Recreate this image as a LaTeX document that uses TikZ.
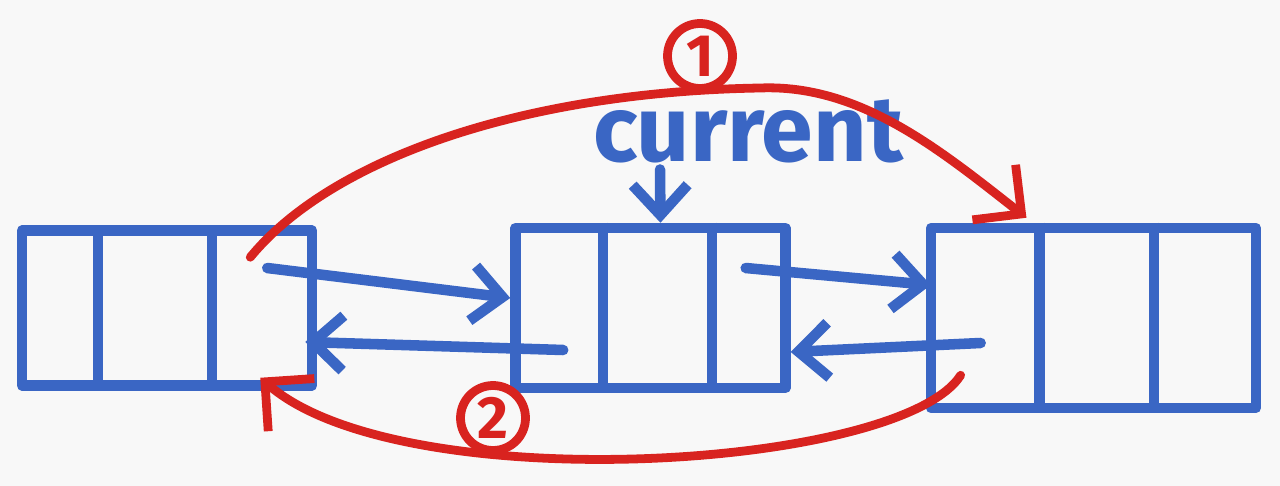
\documentclass[tikz,border=0pt]{standalone}
\usepackage{fontspec}
\setmainfont{Fira Sans}
\usetikzlibrary{positioning, calc, arrows.meta}

\definecolor{penblue}{HTML}{3A66C4}
\definecolor{penred}{HTML}{D8231F}
\definecolor{paper}{HTML}{F8F8F8}

\begin{document}
\begin{tikzpicture}[
    x=0.02cm, y=-0.02cm,
    every node/.style={font=\small},
    listnode/.style={rectangle, draw=penblue, line width=6pt, inner sep=0pt, line join=round},
    divider/.style={penblue, line width=6pt},
    link/.style={-{Straight Barb[length=6mm, width=11mm]}, line width=6pt, penblue, line cap=round, line join=round},
    swap/.style={-{Straight Barb[length=7mm, width=14mm]}, line width=5pt, penred, line cap=round, line join=round},
    steplabel/.style={circle, draw=penred, line width=5pt, text=penred, minimum size=1.3cm, inner sep=0pt, font=\fontsize{34}{34}\selectfont\bfseries},
]

% Background and frame
\fill[paper] (0,0) rectangle (1280,486);
\useasboundingbox (0,0) rectangle (1280,486);

% List nodes
\node[listnode, minimum width=5.8cm, minimum height=3.1cm] (listA) at (167,308) {};
\node[listnode, right=3.86cm of listA, minimum width=5.4cm, minimum height=3.2cm] (listB) {};
\node[listnode, right=2.7cm of listB, yshift=-0.2cm, minimum width=6.5cm, minimum height=3.6cm] (listC) {};

% Cell dividers
\foreach \n/\p/\q in {listA/0.27/0.65, listB/0.33/0.72, listC/0.34/0.68} {
    \draw[divider] ($(\n.north west)!\p!(\n.north east)$) -- ($(\n.south west)!\p!(\n.south east)$);
    \draw[divider] ($(\n.north west)!\q!(\n.north east)$) -- ($(\n.south west)!\q!(\n.south east)$);
}

% Pointer label
\node[anchor=base, text=penblue, font=\fontsize{53}{53}\selectfont\bfseries] (current) at (748,162) {current};

% Link ends
\coordinate (aNext) at ([xshift=-1cm, yshift=0.8cm]listA.east);
\coordinate (aPrev) at ([xshift=-0.24cm, yshift=-0.68cm]listA.east);
\coordinate (bNextIn) at ([yshift=0.2cm]listB.west);
\coordinate (bPrev) at ([xshift=1.06cm, yshift=-0.84cm]listB.west);
\coordinate (bNext) at ([xshift=-0.9cm, yshift=0.8cm]listB.east);
\coordinate (bPrevIn) at ([yshift=-0.88cm]listB.east);
\coordinate (cNextIn) at ([xshift=0.1cm, yshift=0.66cm]listC.west);
\coordinate (cPrev) at ([xshift=1.1cm, yshift=-0.5cm]listC.west);

% Arrows
\draw[link] (aNext) -- (bNextIn);
\draw[link] (bPrev) -- (aPrev);
\draw[link] (bNext) -- (cNextIn);
\draw[link] (cPrev) -- (bPrevIn);
\draw[link] ([xshift=-1.76cm, yshift=-0.15cm]current.base) -- ([xshift=0.2cm]listB.north);

% Red relinking
\coordinate (oneFrom) at ([xshift=-1.34cm, yshift=-0.64cm]listA.north east);
\coordinate (oneTop) at (760,88);
\coordinate (oneTo) at ([xshift=-1.34cm, yshift=0.1cm]listC.north);
\coordinate (twoFrom) at ([xshift=0.7cm, yshift=0.76cm]listC.south west);
\coordinate (twoTo) at ([xshift=-1.14cm, yshift=0.26cm]listA.south east);

\draw[swap] (oneFrom) .. controls (330,160) and (520,92) .. (oneTop) .. controls (860,84) and (940,150) .. (oneTo);
\draw[swap] (twoFrom) .. controls (900,470) and (400,500) .. (twoTo);

\node[steplabel] (stepone) at (700,56) {1};
\node[steplabel] (steptwo) at (493,418) {2};

\end{tikzpicture}
\end{document}
